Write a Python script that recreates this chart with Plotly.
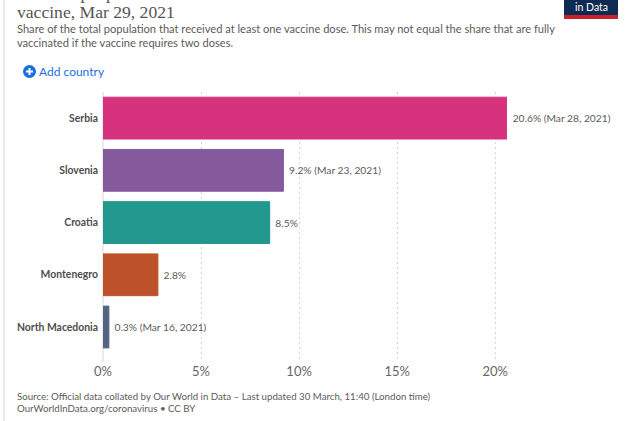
import plotly.graph_objects as go

countries = ["Serbia", "Slovenia", "Croatia", "Montenegro", "North Macedonia"]
values = [20.6, 9.2, 8.5, 2.8, 0.3]
labels = ["20.6% (Mar 28, 2021)", "9.2% (Mar 23, 2021)", "8.5%", "2.8%", "0.3% (Mar 16, 2021)"]
colors = ["#D62A78", "#7F5499", "#1A938A", "#BB4C22", "#4E5F7C"]
tick_vals = [0, 5, 10, 15, 20]
tick_text = ["0%", "5%", "10%", "15%", "20%"]

W, H = 632, 421
L, R, T, B = 103, 507, 92, 362
TXT = "#5b5b5b"
FONT = "Lato"


def px(x):
    return (x - L) / (R - L)


def py(y):
    return (B - y) / (B - T)


fig = go.Figure(go.Bar(
    y=countries, x=values, orientation="h", width=0.8,
    marker=dict(color=colors, opacity=0.96, line=dict(color=colors, width=1)),
    text=labels, texttemplate="\u00a0%{text}", textposition="outside", cliponaxis=False,
    textfont=dict(family=FONT, size=10.25, color=TXT),
    hoverinfo="skip",
))

fig.update_layout(
    width=W, height=H, autosize=False,
    margin=dict(l=L, r=W - R, t=T, b=H - B, pad=0, autoexpand=False),
    paper_bgcolor="white", plot_bgcolor="white",
    showlegend=False, font=dict(family=FONT, color=TXT),
    xaxis=dict(range=[0, 20.6], tickvals=tick_vals, ticktext=tick_text, automargin=False,
               showgrid=True, gridcolor="#d4d4d4", griddash="2px,3px", gridwidth=1,
               zeroline=False, showline=False, ticks="",
               tickfont=dict(family=FONT, size=13, color="#666666")),
    yaxis=dict(type="category", categoryorder="array", categoryarray=countries, automargin=False,
               range=[4.67, -0.5], showgrid=False, zeroline=False, showline=False, ticks="",
               ticklabelstandoff=4,
               tickfont=dict(family=FONT, size=10.4, color="#4d4d4d", weight=700)),
)

fig.add_shape(type="line", xref="paper", yref="paper",
              x0=px(103), x1=px(103), y0=py(T), y1=py(B), line=dict(color="#d8d8d8", width=1), layer="below")
fig.add_shape(type="line", xref="paper", yref="paper",
              x0=px(4), x1=px(4), y0=py(0), y1=py(H), line=dict(color="#e8e8e8", width=2), layer="below")


def note(x, y, text, size, color=TXT, family=FONT, anchor="left", yanchor="middle"):
    fig.add_annotation(xref="paper", yref="paper", x=px(x), y=py(y), text=text, showarrow=False,
                       xanchor=anchor, yanchor=yanchor, align="left", borderpad=0, borderwidth=0,
                       font=dict(family=family, size=size, color=color))


# Title: the first line is cut off by the page top
note(17, -7, "Share of people who received at least one dose of COVID-19", 17.6, "#555555", "Liberation Serif")
note(17, 12, "vaccine, Mar 29, 2021", 17.6, "#555555", "Liberation Serif")
note(17, 28, "Share of the total population that received at least one vaccine dose. This may not equal the share that are fully", 11.1)
note(17, 43, "vaccinated if the vaccine requires two doses.", 11.1)

# Add-country control
fig.add_shape(type="circle", xref="paper", yref="paper", x0=px(23), x1=px(36), y0=py(78), y1=py(65),
              fillcolor="#1a6fe0", line=dict(width=0))
fig.add_shape(type="line", xref="paper", yref="paper", x0=px(26), x1=px(33), y0=py(71.5), y1=py(71.5),
              line=dict(color="white", width=2))
fig.add_shape(type="line", xref="paper", yref="paper", x0=px(29.5), x1=px(29.5), y0=py(68), y1=py(75),
              line=dict(color="white", width=2))
note(39, 71.5, "Add country", 12, "#1a6fe0")

# Logo
fig.add_shape(type="rect", xref="paper", yref="paper", x0=px(564), x1=px(618), y0=py(19), y1=py(0),
              fillcolor="#0f2a52", line=dict(width=0))
fig.add_shape(type="rect", xref="paper", yref="paper", x0=px(564), x1=px(618), y0=py(19), y1=py(15),
              fillcolor="#c8202c", line=dict(width=0))
note(591, 6.5, "in Data", 10.5, "white", anchor="center")

# Footer
note(17, 395.5, "Source: Official data collated by Our World in Data – Last updated 30 March, 11:40 (London time)", 9.7)
note(17, 408, "OurWorldInData.org/coronavirus • CC BY", 9.7)

fig.write_html("out.html", config={"displayModeBar": False},
               post_script="document.body.style.margin='0';document.body.style.overflow='hidden';")
